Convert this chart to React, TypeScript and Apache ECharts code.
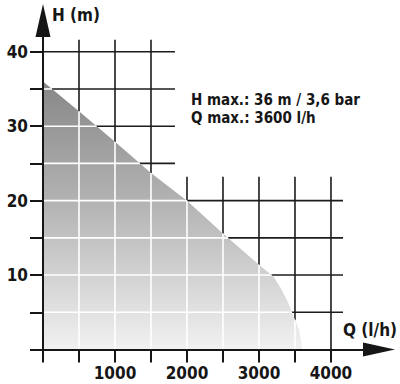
import React, { useEffect, useRef } from "react";
import * as echarts from "echarts";

// Pump curve: flow Q (l/h) vs head H (m)
const flowQ = [0, 500, 1000, 1500, 2000, 2500, 3000, 3200, 3300, 3400, 3500, 3560, 3600];
const headH = [36, 32, 27.9, 23.7, 20, 15.6, 11.4, 9.8, 8.3, 6.4, 4.0, 2.6, 0];

const xTickValues = [0, 500, 1000, 1500, 2000, 2500, 3000, 3500, 4000];
const xLabelValues = [1000, 2000, 3000, 4000];
const yTickValues = [0, 5, 10, 15, 20, 25, 30, 35, 40];
const yLabelValues = [10, 20, 30, 40];

// grid blocks of the diagram
const upperRows = [25, 30, 35, 40];
const upperRowEnd = 1833;
const upperCols = [500, 1000, 1500];
const upperColTop = 41.6;
const lowerRows = [5, 10, 15, 20];
const lowerRowEnd = 4167;
const lowerCols = [2000, 2500, 3000, 3500, 4000];
const lowerColTop = 23.2;

const infoLines = ["H max.: 36 m / 3,6 bar", "Q max.: 3600 l/h"];

const FONT = "'Liberation Sans Narrow', 'DejaVu Sans Condensed', 'Liberation Sans', sans-serif";

function headAt(q: number): number {
  for (let i = 0; i < flowQ.length - 1; i++) {
    if (q >= flowQ[i] && q <= flowQ[i + 1]) {
      const t = (q - flowQ[i]) / (flowQ[i + 1] - flowQ[i]);
      return headH[i] + t * (headH[i + 1] - headH[i]);
    }
  }
  return 0;
}
function flowAt(h: number): number {
  for (let i = 0; i < headH.length - 1; i++) {
    if (h <= headH[i] && h >= headH[i + 1]) {
      const t = (headH[i] - h) / (headH[i] - headH[i + 1]);
      return flowQ[i] + t * (flowQ[i + 1] - flowQ[i]);
    }
  }
  return 0;
}

function buildSegments(): number[][] {
  const s: number[][] = [];
  upperRows.forEach((h) => s.push([0, h, upperRowEnd, h]));
  upperCols.forEach((q) => s.push([q, 0, q, upperColTop]));
  lowerRows.forEach((h) => s.push([0, h, lowerRowEnd, h]));
  lowerCols.forEach((q) => s.push([q, 0, q, lowerColTop]));
  return s;
}
function buildInnerSegments(): number[][] {
  const s: number[][] = [];
  [...lowerRows, ...upperRows].forEach((h) => {
    if (h < headH[0]) s.push([0, h, flowAt(h), h]);
  });
  [...upperCols, ...lowerCols].forEach((q) => {
    if (q < flowQ[flowQ.length - 1]) s.push([q, 0, q, headAt(q)]);
  });
  return s;
}

const segRender = (color: string, width: number) => (params: any, api: any) => {
  const p1 = api.coord([api.value(0), api.value(1)]);
  const p2 = api.coord([api.value(2), api.value(3)]);
  return {
    type: "line",
    shape: { x1: p1[0], y1: p1[1], x2: p2[0], y2: p2[1] },
    style: { stroke: color, lineWidth: width },
  };
};

export default function App() {
  const ref = useRef<HTMLDivElement>(null);
  useEffect(() => {
    if (!ref.current) return;
    const chart = echarts.init(ref.current, undefined, { renderer: "svg" });
    const axisCommon = {
      z: 10,
      splitLine: { show: false },
      axisLine: {
        show: true,
        lineStyle: { color: "#161616", width: 2 },
        symbol: ["none", "triangle"],
      },
      axisTick: { show: true, inside: false, length: 13, lineStyle: { color: "#161616", width: 2 } },
      axisLabel: {
        color: "#161616",
        fontFamily: FONT,
        fontWeight: "bold",
        fontSize: 17,
        margin: 16,
        formatter: (v: number) => String(v),
      },
    };
    chart.setOption({
      animation: false,
      backgroundColor: "#ffffff",
      grid: { left: 43, right: 21, top: 20.5, bottom: 34.5 },
      xAxis: {
        ...axisCommon,
        type: "value",
        min: 0,
        max: 4667,
        axisLine: { ...axisCommon.axisLine, symbolSize: [14, 32] },
        axisTick: { ...axisCommon.axisTick, customValues: xTickValues },
        axisLabel: { ...axisCommon.axisLabel, customValues: xLabelValues, margin: 15 },
      },
      yAxis: {
        ...axisCommon,
        type: "value",
        min: 0,
        max: 44.2,
        axisLine: { ...axisCommon.axisLine, symbolSize: [15, 33] },
        axisTick: { ...axisCommon.axisTick, customValues: yTickValues },
        axisLabel: { ...axisCommon.axisLabel, customValues: yLabelValues, margin: 15 },
      },
      series: [
        {
          type: "custom",
          z: 1,
          clip: false,
          renderItem: segRender("#1c1c1c", 1.6),
          data: buildSegments(),
          silent: true,
        },
        {
          type: "line",
          z: 2,
          symbol: "none",
          data: flowQ.map((q, i) => [q, headH[i]]),
          lineStyle: { width: 0 },
          areaStyle: {
            opacity: 1,
            color: new echarts.graphic.LinearGradient(0, 0, 0, 1, [
              { offset: 0, color: "#878787" },
              { offset: 0.45, color: "#b3b3b3" },
              { offset: 1, color: "#f1f1f1" },
            ]),
          },
          silent: true,
        },
        {
          type: "custom",
          z: 3,
          clip: false,
          renderItem: segRender("#ffffff", 1.6),
          data: buildInnerSegments(),
          silent: true,
        },
      ],
      graphic: [
        {
          type: "text",
          left: 52,
          top: 6,
          style: { text: "H (m)", font: `bold 17px ${FONT}`, fill: "#161616" },
        },
        {
          type: "text",
          left: 343,
          top: 321,
          style: { text: "Q (l/h)", font: `bold 17px ${FONT}`, fill: "#161616" },
        },
        ...infoLines.map((t, i) => ({
          type: "text",
          left: 191,
          top: 92 + i * 18,
          style: { text: t, font: `bold 15px ${FONT}`, fill: "#161616" },
        })),
      ],
    });
    return () => chart.dispose();
  }, []);
  return (
    <div
      ref={ref}
      style={{ position: "fixed", left: 0, top: 0, width: 400, height: 384 }}
    />
  );
}
